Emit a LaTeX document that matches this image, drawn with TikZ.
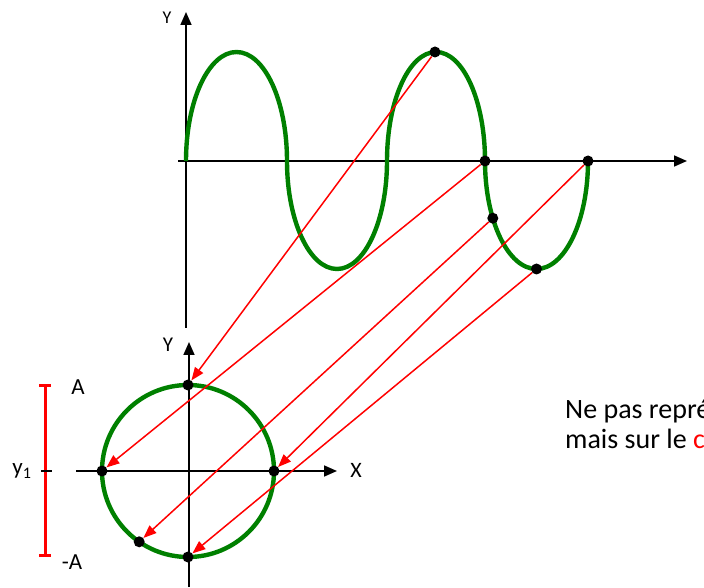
\documentclass[tikz,border=0pt]{standalone}
\usepackage{fontspec}
\setmainfont{Carlito}
\usetikzlibrary{arrows.meta}
\definecolor{wavegreen}{RGB}{0,128,0}
\definecolor{linered}{RGB}{255,0,0}
\begin{document}
\begin{tikzpicture}[x=1pt,y=1pt,
  axis/.style={line width=1.7pt,-{Triangle[length=13pt,width=11pt]}},
  wave/.style={wavegreen,line width=4.4pt},
  proj/.style={linered,line width=1.5pt,-{Triangle[length=13pt,width=10pt]}},
  dot/.style={circle,fill=black,inner sep=0pt,minimum size=11pt},
  lbl/.style={inner sep=0pt,font=\fontsize{#1}{#1}\selectfont}]
\useasboundingbox (0,0) rectangle (704,587);
\clip (0,0) rectangle (704,587);
% upper axes
\coordinate (uy0) at (186,259); \coordinate (uy1) at (186,575);
\coordinate (ux0) at (178,426); \coordinate (ux1) at (687,426);
\draw[axis] (uy0) -- (uy1);
\draw[axis] (ux0) -- (ux1);
% wave
\draw[wave] (186,426) arc[start angle=180,end angle=0,x radius=50.5,y radius=109]
  arc[start angle=180,end angle=360,x radius=50,y radius=108]
  arc[start angle=180,end angle=0,x radius=49,y radius=109]
  arc[start angle=180,end angle=360,x radius=51.5,y radius=108];
% lower axes and circle
\coordinate (ly0) at (189,0); \coordinate (ly1) at (189,245);
\coordinate (lx0) at (76,116); \coordinate (lx1) at (337,116);
\draw[wave] (188,116) circle[radius=86];
\draw[axis] (ly0) -- (ly1);
\draw[axis] (lx0) -- (lx1);
% dots on wave
\node[dot] (w1) at (435,535) {};
\node[dot] (w2) at (485,426) {};
\node[dot] (w3) at (492.8,368.8) {};
\node[dot] (w4) at (536.5,318) {};
\node[dot] (w5) at (588,426) {};
% dots on circle
\node[dot] (c1) at (188,202) {};
\node[dot] (c2) at (102,116) {};
\node[dot] (c3) at (139.2,45.2) {};
\node[dot] (c4) at (188,30) {};
\node[dot] (c5) at (274,116) {};
% projections
\draw[proj] (w1) -- (c1);
\draw[proj] (w2) -- (c2);
\draw[proj] (w3) -- (c3);
\draw[proj] (w4) -- (c4);
\draw[proj] (w5) -- (c5);
% amplitude bar
\coordinate (bt) at (45,202); \coordinate (bb) at (45,32);
\draw[linered,line width=3pt] (bt) -- (bb);
\draw[linered,line width=3pt] (39,202) -- (51,202);
\draw[linered,line width=3pt] (39,32) -- (51,32);
\draw[line width=1.6pt] (41,116) -- (52,116);
% labels
\node[lbl=18] (uY) at (167,569) {Y};
\node[lbl=18] (uX) at (710,429) {X};
\node[lbl=21] (lY) at (168,242) {Y};
\node[lbl=22] (lX) at (356,117) {X};
\node[lbl=23] (lA) at (78,200) {A};
\node[lbl=23] (lmA) at (72,25) {-A};
\node[lbl=23] (ly1) at (22,116) {y\textsubscript{1}};
\node[lbl=28,anchor=base west] (t1) at (565,169) {Ne pas représenter};
\node[lbl=28,anchor=base west] (t2) at (565,139) {mais sur le \textcolor{red}{cercle}};
\end{tikzpicture}
\end{document}
